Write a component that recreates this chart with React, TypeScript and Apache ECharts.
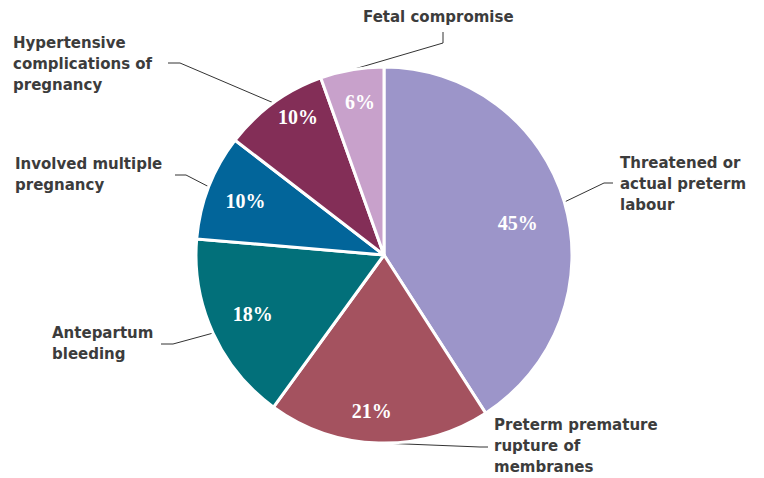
import React, { useEffect, useRef } from "react";
import * as echarts from "echarts";

const categories = [
  "Threatened or\nactual preterm\nlabour",
  "Preterm premature\nrupture of\nmembranes",
  "Antepartum\nbleeding",
  "Involved multiple\npregnancy",
  "Hypertensive\ncomplications of\npregnancy",
  "Fetal compromise",
];
const percents = [45, 21, 18, 10, 10, 6];
const colors = ["#9C95C9", "#A4525F", "#02707A", "#02659A", "#832E57", "#C8A1CB"];

// label anchor [x, y, align] and leader-line elbow points (after the slice edge point)
const labelAnchors: [number, number, string][] = [
  [620, 184, "left"],
  [494, 446, "left"],
  [52, 343, "left"],
  [15, 174, "left"],
  [13, 64, "left"],
  [363, 17, "left"],
];
const leaderElbows: [number, number][][] = [
  [[604, 183], [613, 183]],
  [[480, 447], [488, 447]],
  [[173, 344], [161, 344]],
  [[186, 175], [175, 175]],
  [[180, 63], [168, 63]],
  [[443, 43], [443, 32]],
];
// small nudges for the percentage labels inside the slices
const pctNudges: [number, number][] = [
  [-13, 11],
  [-8, 3],
  [8, -5],
  [4, 2],
  [4, -14],
  [2, -2],
];

export default function App() {
  const ref = useRef<HTMLDivElement>(null);
  useEffect(() => {
    if (!ref.current) return;
    const chart = echarts.init(ref.current, undefined, { renderer: "svg" });
    const data = categories.map((name, i) => ({
      name,
      value: percents[i],
      itemStyle: { color: colors[i] },
    }));
    chart.setOption({
      animation: false,
      backgroundColor: "#ffffff",
      series: [
        {
          type: "pie",
          center: [384, 255],
          radius: [0, 188],
          startAngle: 90,
          clockwise: true,
          silent: true,
          data,
          itemStyle: { borderColor: "#ffffff", borderWidth: 3 },
          label: {
            show: true,
            position: "outside",
            formatter: (p: any) => p.name,
            fontFamily: "DejaVu Sans",
            fontWeight: "bold",
            fontSize: 15,
            lineHeight: 21,
            color: "#3c3c3c",
          },
          labelLine: {
            show: true,
            lineStyle: { color: "#333333", width: 1 },
          },
          labelLayout: (params: any) => {
            const i = params.dataIndex;
            const a = labelAnchors[i];
            const edge = params.labelLinePoints ? params.labelLinePoints[0] : null;
            const pts = edge ? [edge, ...leaderElbows[i]] : undefined;
            return {
              x: a[0],
              y: a[1],
              align: a[2],
              verticalAlign: "middle",
              labelLinePoints: pts,
            };
          },
        },
        {
          type: "pie",
          center: [384, 255],
          radius: [0, 300],
          startAngle: 90,
          clockwise: true,
          silent: true,
          data: categories.map((name, i) => ({ name, value: percents[i] })),
          itemStyle: { color: "rgba(0,0,0,0)", borderWidth: 0 },
          label: {
            show: true,
            position: "inside",
            formatter: (p: any) => p.value + "%",
            fontFamily: "Liberation Serif",
            fontWeight: "bold",
            fontSize: 20,
            color: "#ffffff",
          },
          labelLine: { show: false },
          labelLayout: (params: any) => {
            const n = pctNudges[params.dataIndex];
            return { dx: n[0], dy: n[1] };
          },
        },
      ],
    });
    return () => chart.dispose();
  }, []);
  return (
    <div
      ref={ref}
      style={{ position: "fixed", left: 0, top: 0, width: 764, height: 478 }}
    />
  );
}
